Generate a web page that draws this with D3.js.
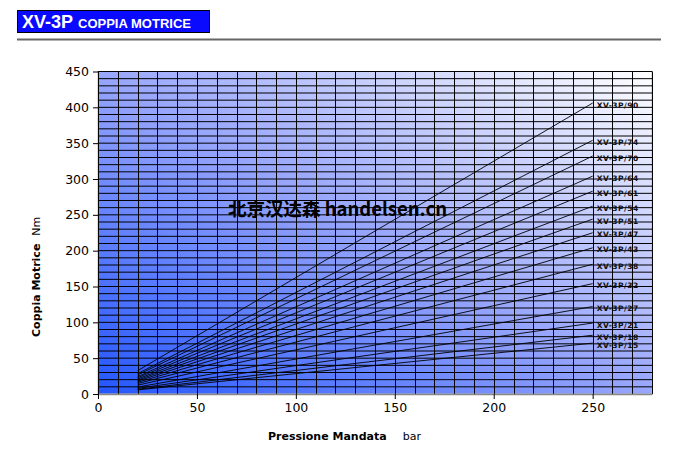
<!DOCTYPE html>
<html><head><meta charset="utf-8">
<script src="https://cdn.jsdelivr.net/npm/d3@7"></script>
<style>html,body{margin:0;padding:0;background:#fff;}svg{display:block;}</style>
</head><body>
<svg id="c" width="675" height="450"></svg>
<script>
const models = ["XV-3P/90","XV-3P/74","XV-3P/70","XV-3P/64","XV-3P/61","XV-3P/54","XV-3P/51","XV-3P/47","XV-3P/43","XV-3P/38","XV-3P/32","XV-3P/27","XV-3P/21","XV-3P/18","XV-3P/15"];
const pressure = [20, 250];
const torqueLow = [32.5, 28.3, 26.6, 24.3, 22.7, 21.0, 19.5, 18.0, 16.3, 14.5, 12.3, 9.7, 7.9, 6.6, 5.7];
const torqueHigh = [406, 354, 332, 304, 283, 262, 244, 225, 204, 181, 154, 122, 99, 82, 71];
const xTicks = [0, 50, 100, 150, 200, 250];
const yTicks = [0, 50, 100, 150, 200, 250, 300, 350, 400, 450];
const xDomain = [0, 280];
const yDomain = [0, 450];
const gridStep = 10;

const svg = d3.select("#c");
const x = d3.scaleLinear().domain(xDomain).range([98, 652]);
const y = d3.scaleLinear().domain(yDomain).range([394, 71.5]);

// title
svg.append("rect").attr("x",17.5).attr("y",10.5).attr("width",192).attr("height",22)
  .attr("fill","#0a0aff").attr("stroke","#000").attr("stroke-width",1);
const t = svg.append("text").attr("x",22).attr("y",28).attr("fill","#fff")
  .attr("font-family","Liberation Sans, Arial, sans-serif").attr("font-weight","bold");
t.append("tspan").attr("font-size",18).text("XV-3P");
t.append("tspan").attr("font-size",13).attr("dx",5).text("COPPIA MOTRICE");
svg.append("line").attr("x1",17).attr("x2",661).attr("y1",39.5).attr("y2",39.5)
  .attr("stroke","#666").attr("stroke-width",2);

// gradient background
const defs = svg.append("defs");
const g = defs.append("linearGradient").attr("id","bg").attr("x1",0).attr("y1",1).attr("x2",1).attr("y2",0);
g.append("stop").attr("offset",0).attr("stop-color","#2456ff");
g.append("stop").attr("offset",0.5).attr("stop-color","#98a6fb");
g.append("stop").attr("offset",1).attr("stop-color","#ffffff");
svg.append("rect").attr("x",x(xDomain[0])).attr("y",y(yDomain[1]))
  .attr("width",x(xDomain[1])-x(xDomain[0])).attr("height",y(yDomain[0])-y(yDomain[1]))
  .attr("fill","url(#bg)").attr("stroke","#bbb").attr("stroke-width",1);

// grid
const gx = d3.range(xDomain[0]+gridStep, xDomain[1]+0.1, gridStep);
const gy = d3.range(yDomain[0]+gridStep, yDomain[1]+0.1, gridStep);
svg.append("g").selectAll("line").data(gx).join("line")
  .attr("x1",d=>Math.round(x(d))+0.5).attr("x2",d=>Math.round(x(d))+0.5)
  .attr("y1",y(yDomain[1])).attr("y2",y(0)).attr("stroke","#000").attr("stroke-width",1);
svg.append("g").selectAll("line").data(gy).join("line")
  .attr("x1",x(0)).attr("x2",x(xDomain[1]))
  .attr("y1",d=>y(d)).attr("y2",d=>y(d)).attr("stroke","#000").attr("stroke-width",1);

// series lines
const series = models.map((m,i)=>({name:m, pts:[[pressure[0],torqueLow[i]],[pressure[1],torqueHigh[i]]]}));
const line = d3.line().x(d=>x(d[0])).y(d=>y(d[1]));
svg.append("g").selectAll("path").data(series).join("path")
  .attr("d",d=>line(d.pts)).attr("fill","none").attr("stroke","#000").attr("stroke-width",0.9);

// series labels
svg.append("g").selectAll("text").data(series).join("text")
  .attr("x",x(pressure[1])+4).attr("y",d=>y(d.pts[1][1])+2.5)
  .attr("dominant-baseline","middle")
  .attr("font-family","DejaVu Sans, Verdana, sans-serif").attr("font-weight","bold")
  .attr("font-size",7.5).attr("letter-spacing",0.5).attr("fill","#111")
  .text(d=>d.name);

// axes
const font = "DejaVu Sans, Verdana, sans-serif";
const xa = svg.append("g").attr("transform",`translate(0,${y(0)})`)
  .call(d3.axisBottom(x).tickValues(xTicks).tickSize(5).tickSizeOuter(0).tickPadding(4));
xa.select(".domain").attr("stroke","#888").attr("stroke-width",1.5);
xa.selectAll(".tick line").attr("stroke","#000");
xa.selectAll("text").attr("font-family",font).attr("font-size",12.5).attr("fill","#000");
const ya = svg.append("g").attr("transform",`translate(${x(0)},0)`)
  .call(d3.axisLeft(y).tickValues(yTicks).tickSize(5).tickSizeOuter(0).tickPadding(4));
ya.select(".domain").attr("stroke","#000");
ya.selectAll(".tick line").attr("stroke","#000");
ya.selectAll("text").attr("font-family",font).attr("font-size",12.5).attr("fill","#000");

// axis titles
const xt = svg.append("text").attr("x",268).attr("y",440).attr("font-family",font).attr("font-size",11).attr("fill","#000");
xt.append("tspan").attr("font-weight","bold").text("Pressione Mandata");
xt.append("tspan").attr("dx",16).text("bar");
const yt = svg.append("text").attr("transform","translate(40,337) rotate(-90)").attr("font-family",font).attr("font-size",11).attr("fill","#000");
yt.append("tspan").attr("font-weight","bold").text("Coppia Motrice");
yt.append("tspan").attr("dx",8).text("Nm");

// watermark
svg.append("text").attr("x",228).attr("y",216).attr("font-family","Noto Sans CJK SC, sans-serif")
  .attr("font-weight","bold").attr("font-size",18.5).attr("fill","#000").text("北京汉达森 handelsen.cn");
</script>
</body></html>
